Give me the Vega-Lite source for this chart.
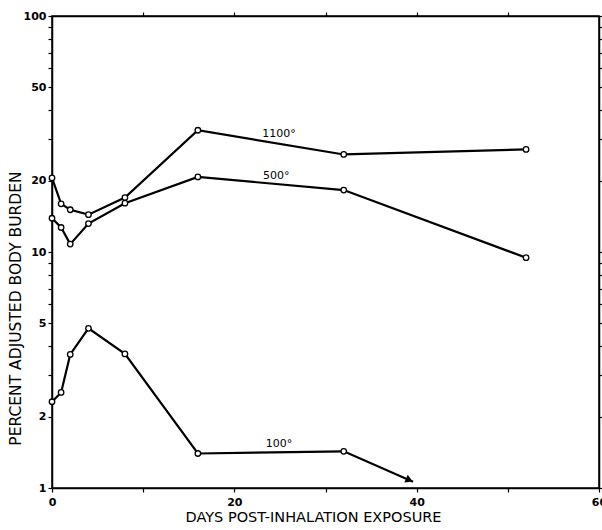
{
  "$schema": "https://vega.github.io/schema/vega-lite/v6.json",
  "width": 547,
  "height": 472,
  "autosize": {"type": "none"},
  "padding": {"left": 52, "top": 16, "right": 3, "bottom": 42},
  "background": "white",
  "config": {
    "view": {"stroke": "black", "strokeWidth": 1.5},
    "axis": {
      "grid": false,
      "domainColor": "black",
      "domainWidth": 1.5,
      "tickColor": "black",
      "tickWidth": 1.2,
      "tickSize": 4,
      "labelFont": "DejaVu Sans",
      "labelFontWeight": "bold",
      "labelFontSize": 11,
      "labelColor": "black",
      "titleFont": "DejaVu Sans",
      "titleFontWeight": "normal",
      "titleColor": "black"
    }
  },
  "datasets": {
    "curves": [
      {"s": "1100", "day": 0, "pct": 20.6, "kind": "pt"},
      {"s": "1100", "day": 1, "pct": 16.0, "kind": "pt"},
      {"s": "1100", "day": 2, "pct": 15.1, "kind": "pt"},
      {"s": "1100", "day": 4, "pct": 14.4, "kind": "pt"},
      {"s": "1100", "day": 8, "pct": 17.0, "kind": "pt"},
      {"s": "1100", "day": 16, "pct": 32.8, "kind": "pt"},
      {"s": "1100", "day": 32, "pct": 25.9, "kind": "pt"},
      {"s": "1100", "day": 52, "pct": 27.2, "kind": "pt"},
      {"s": "500", "day": 0, "pct": 13.9, "kind": "pt"},
      {"s": "500", "day": 1, "pct": 12.7, "kind": "pt"},
      {"s": "500", "day": 2, "pct": 10.8, "kind": "pt"},
      {"s": "500", "day": 4, "pct": 13.2, "kind": "pt"},
      {"s": "500", "day": 8, "pct": 16.1, "kind": "pt"},
      {"s": "500", "day": 16, "pct": 20.8, "kind": "pt"},
      {"s": "500", "day": 32, "pct": 18.3, "kind": "pt"},
      {"s": "500", "day": 52, "pct": 9.46, "kind": "pt"},
      {"s": "100", "day": 0, "pct": 2.32, "kind": "pt"},
      {"s": "100", "day": 1, "pct": 2.54, "kind": "pt"},
      {"s": "100", "day": 2, "pct": 3.68, "kind": "pt"},
      {"s": "100", "day": 4, "pct": 4.75, "kind": "pt"},
      {"s": "100", "day": 8, "pct": 3.70, "kind": "pt"},
      {"s": "100", "day": 16, "pct": 1.40, "kind": "pt"},
      {"s": "100", "day": 32, "pct": 1.43, "kind": "pt"},
      {"s": "100", "day": 39.6, "pct": 1.063, "kind": "tip"},
      {"s": "100", "day": 39.2, "pct": 1.08, "kind": "head"}
    ],
    "labels": [
      {"day": 24.9, "pct": 31.6, "text": "1100°"},
      {"day": 24.6, "pct": 21.0, "text": "500°"},
      {"day": 24.9, "pct": 1.536, "text": "100°"}
    ]
  },
  "layer": [
    {
      "data": {"name": "curves"},
      "transform": [{"filter": "datum.kind != 'head'"}],
      "mark": {"type": "line", "color": "black", "strokeWidth": 2.2},
      "encoding": {
        "x": {
          "field": "day", "type": "quantitative",
          "scale": {"domain": [0, 60], "nice": false, "zero": false},
          "axis": {
            "orient": "bottom",
            "values": [0, 10, 20, 30, 40, 50, 60],
            "format": "d",
            "labelExpr": "datum.value % 20 == 0 ? datum.label : ''",
            "labelOverlap": false,
            "labelFlush": false,
            "labelPadding": 4,
            "title": "DAYS POST-INHALATION EXPOSURE",
            "titleFontSize": 14.5,
            "titleX": 261,
            "titleY": 33,
            "titleAlign": "center",
            "titleBaseline": "alphabetic"
          }
        },
        "y": {
          "field": "pct", "type": "quantitative",
          "scale": {"type": "log", "domain": [1, 100], "nice": false},
          "axis": {
            "orient": "left",
            "values": [1, 2, 3, 4, 5, 6, 7, 8, 9, 10, 20, 30, 40, 50, 60, 70, 80, 90, 100],
            "format": "d",
            "labelExpr": "indexof([1, 2, 5, 10, 20, 50, 100], datum.value) >= 0 ? datum.label : ''",
            "labelOverlap": false,
            "labelPadding": 2,
            "title": "PERCENT ADJUSTED BODY BURDEN",
            "titleFontSize": 15.5,
            "titleX": -37,
            "titleY": 292,
            "titleAngle": -90,
            "titleAlign": "center",
            "titleBaseline": "middle"
          }
        },
        "detail": {"field": "s"}
      }
    },
    {
      "data": {"name": "curves"},
      "transform": [{"filter": "datum.kind == 'pt'"}],
      "mark": {"type": "point", "shape": "circle", "filled": true, "fill": "white", "stroke": "black", "strokeWidth": 1.3, "size": 30, "opacity": 1},
      "encoding": {
        "x": {
          "field": "day", "type": "quantitative",
          "scale": {"domain": [0, 60], "nice": false, "zero": false},
          "axis": {"orient": "top", "values": [10, 20, 30, 40, 50], "labels": false, "title": null}
        },
        "y": {
          "field": "pct", "type": "quantitative",
          "scale": {"type": "log", "domain": [1, 100], "nice": false},
          "axis": {"orient": "right", "values": [1, 2, 3, 4, 5, 6, 7, 8, 9, 10, 20, 30, 40, 50, 60, 70, 80, 90, 100], "labels": false, "title": null, "tickSize": 3}
        }
      }
    },
    {
      "data": {"name": "curves"},
      "transform": [{"filter": "datum.kind == 'head'"}],
      "mark": {"type": "point", "shape": "triangle-right", "filled": true, "color": "black", "size": 70, "angle": 23.5, "opacity": 1},
      "encoding": {
        "x": {"field": "day", "type": "quantitative", "scale": {"domain": [0, 60], "nice": false, "zero": false}, "axis": null},
        "y": {"field": "pct", "type": "quantitative", "scale": {"type": "log", "domain": [1, 100], "nice": false}, "axis": null}
      }
    },
    {
      "data": {"name": "labels"},
      "mark": {"type": "text", "font": "DejaVu Sans", "fontSize": 11, "color": "black", "align": "center", "baseline": "middle"},
      "encoding": {
        "x": {"field": "day", "type": "quantitative", "scale": {"domain": [0, 60], "nice": false, "zero": false}, "axis": null},
        "y": {"field": "pct", "type": "quantitative", "scale": {"type": "log", "domain": [1, 100], "nice": false}, "axis": null},
        "text": {"field": "text"}
      }
    }
  ],
  "resolve": {"axis": {"x": "independent", "y": "independent"}}
}
